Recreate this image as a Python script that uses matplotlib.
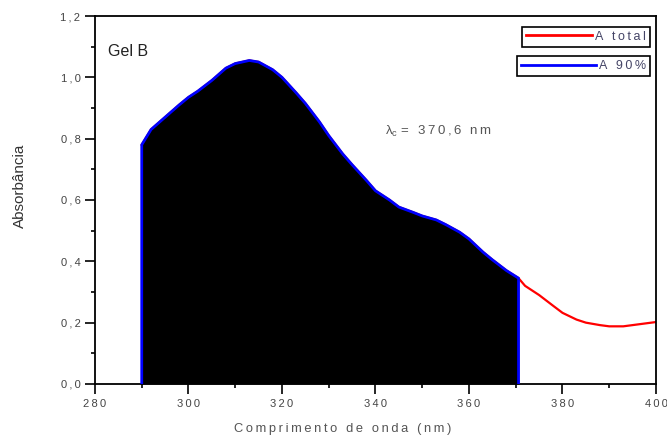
import numpy as np
import matplotlib.pyplot as plt
from matplotlib.lines import Line2D
from matplotlib.ticker import MultipleLocator, FuncFormatter

plt.rcParams['font.family'] = ['Liberation Sans', 'DejaVu Sans']

# absorbance spectrum
wl = [290, 292, 295, 298, 300, 302, 305, 308, 310, 313, 315, 318, 320, 323, 325,
      328, 330, 333, 335, 338, 340, 343, 345, 348, 350, 353, 355, 358, 360, 363,
      365, 368, 370.6, 372, 375, 378, 380, 383, 385, 388, 390, 393, 395, 398, 400]
absb = [0.78, 0.83, 0.87, 0.91, 0.935, 0.955, 0.99, 1.03, 1.045, 1.055, 1.05, 1.025,
        1.0, 0.95, 0.915, 0.855, 0.81, 0.75, 0.715, 0.665, 0.63, 0.60, 0.577, 0.56,
        0.548, 0.535, 0.52, 0.495, 0.473, 0.43, 0.405, 0.37, 0.345, 0.32, 0.29,
        0.255, 0.232, 0.21, 0.2, 0.192, 0.188, 0.188, 0.192, 0.198, 0.202]
lam_c = 370.6


def sp(s):
    # spread the letters out a bit, like the original export
    return '\u2009'.join(s)


wl = np.array(wl)
absb = np.array(absb)
cut = wl <= lam_c

fig = plt.figure(figsize=(6.67, 4.41), dpi=100)
ax = fig.add_axes([0.1424, 0.1293, 0.8411, 0.8344])

ax.plot(wl, absb, color='red', lw=1.6, zorder=2)
ax.fill_between(wl[cut], 0, absb[cut], color='black', lw=0, zorder=3)
xb = np.concatenate([[wl[cut][0]], wl[cut], [wl[cut][-1]]])
yb = np.concatenate([[0], absb[cut], [0]])
ax.plot(xb, yb, color='blue', lw=2, zorder=4)

ax.set_xlim(280, 400)
ax.set_ylim(0, 1.2)
ax.xaxis.set_major_locator(MultipleLocator(20))
ax.xaxis.set_minor_locator(MultipleLocator(10))
ax.yaxis.set_major_locator(MultipleLocator(0.2))
ax.yaxis.set_minor_locator(MultipleLocator(0.1))
ax.xaxis.set_major_formatter(FuncFormatter(lambda v, p: sp(f"{v:.0f}")))
ax.yaxis.set_major_formatter(FuncFormatter(lambda v, p: sp(f"{v:.1f}".replace('.', ','))))
ax.tick_params(which='major', direction='out', length=7, width=1.2, labelsize=8,
               labelcolor='#444444', top=False, right=False)
ax.tick_params(which='minor', direction='out', length=3, width=1.2, top=False, right=False)
for s in ax.spines.values():
    s.set_linewidth(1.3)

ax.set_xlabel(sp("Comprimento de onda (nm)"), fontsize=9.3, color='#555555')
ax.xaxis.set_label_coords(0.442, -0.107)
ax.set_ylabel("Absorbância", fontsize=11, color='#333333')
ax.yaxis.set_label_coords(-0.121, 0.538)

ax.text(0.023, 0.89, "Gel B", transform=ax.transAxes, fontsize=11.5, color='#222222')
ax.text(0.517, 0.677, r"$\mathregular{\lambda_c}$" + " " + sp("= 370,6 nm"),
        transform=ax.transAxes, fontsize=9.5, color='#555555')

leg1 = ax.legend([Line2D([], [], color='red', lw=2)], [sp("A total")], loc='upper right',
                 bbox_to_anchor=(0.989, 0.97), fancybox=False, edgecolor='black',
                 framealpha=1, fontsize=9, handlelength=5.3, borderpad=0.3,
                 handletextpad=0.25, borderaxespad=0)
leg1.get_frame().set_linewidth(1.2)
for t in leg1.get_texts():
    t.set_color('#444466')
ax.add_artist(leg1)
leg2 = ax.legend([Line2D([], [], color='blue', lw=2)], [sp("A 90%")], loc='upper right',
                 bbox_to_anchor=(0.989, 0.89), fancybox=False, edgecolor='black',
                 framealpha=1, fontsize=9, handlelength=6.0, borderpad=0.3,
                 handletextpad=0.25, borderaxespad=0)
leg2.get_frame().set_linewidth(1.2)
for t in leg2.get_texts():
    t.set_color('#444466')

fig.savefig("out.png", dpi=100)
